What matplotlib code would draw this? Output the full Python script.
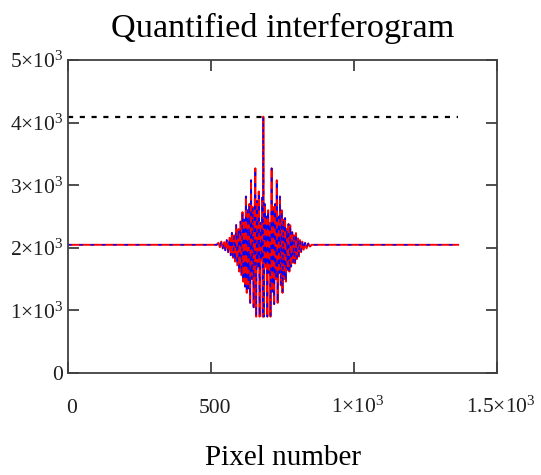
import matplotlib
matplotlib.use('Agg')
import matplotlib.pyplot as plt
import matplotlib.transforms as mtrans

# interferogram vertices (pixel, level)
pixel = [0, 520, 526, 531, 536, 541, 546, 550, 555, 560, 565, 569, 573, 577, 581,
         584, 588, 592, 596, 599, 603, 607, 610, 613, 616, 619, 622, 625, 628,
         631, 634, 637, 640, 643, 646, 649, 652, 655, 658, 661, 664, 667, 670,
         673, 676, 679, 681, 683, 685, 688, 691, 694, 697, 700, 703, 706, 708,
         712, 715, 718, 721, 724, 727, 730, 733, 736, 739, 741, 744, 747, 750,
         753, 756, 759, 762, 765, 768, 771, 774, 777, 780, 784, 787, 790, 794,
         797, 800, 804, 807, 811, 815, 819, 824, 829, 834, 840, 846, 852, 1364]
level = [2048, 2048, 2080, 2010, 2100, 1990, 2090, 1960, 2125, 1930, 2160, 1880,
         2240, 1840, 2200, 1780, 2365, 1720, 2300, 1620, 2420, 1560, 2570, 1460,
         2450, 1380, 2820, 1280, 2600, 1350, 2700, 1120, 3080, 1500, 2650, 1050,
         2500, 3270, 900, 2750, 1700, 2900, 900, 2400, 1800, 2800, 900, 4095,
         900, 2700, 1700, 2500, 900, 2600, 1600, 2400, 900, 3270, 1300, 2650,
         1100, 2700, 1500, 3080, 1120, 2500, 1600, 2820, 1400, 2600, 1280, 2450,
         1500, 2475, 1460, 2300, 1650, 2380, 1620, 2360, 1700, 2250, 1760, 2200,
         1750, 2236, 1820, 2150, 1860, 2124, 1930, 2100, 1970, 2080, 1990, 2070,
         2020, 2048, 2048]

max_level = 4095
max_x = [0, 1364]

xticks = [0, 500, 1000, 1500]
xlabels = ['0', '500', r'$1{\times}10^{3}$', r'$1.5{\times}10^{3}$']
yticks = [0, 1000, 2000, 3000, 4000, 5000]
ylabels = ['0', r'$1{\times}10^{3}$', r'$2{\times}10^{3}$', r'$3{\times}10^{3}$',
           r'$4{\times}10^{3}$', r'$5{\times}10^{3}$']

plt.rcParams['font.family'] = ['Liberation Serif', 'DejaVu Serif']
plt.rcParams['mathtext.fontset'] = 'custom'
plt.rcParams['mathtext.rm'] = 'Liberation Serif'
plt.rcParams['mathtext.it'] = 'Liberation Serif'

fig = plt.figure(figsize=(5.41, 4.75), dpi=100)
ax = fig.add_axes([0.1257, 0.2147, 0.793, 0.659])

ax.plot(max_x, [max_level, max_level], color='black', lw=1.6,
        dashes=(2.3, 3.0))
ax.plot(pixel, level, color='red', lw=1.4)
ax.plot(pixel, level, color='blue', lw=1.0, dashes=(2.7, 5.4))

ax.set_xlim(0, 1500)
ax.set_ylim(0, 5000)
ax.set_xticks(xticks)
ax.set_xticklabels(xlabels)
ax.set_yticks(yticks)
ax.set_yticklabels(ylabels)
ax.tick_params(direction='in', length=8, width=1.3, color='#404040',
               labelsize=15.5, labelcolor='#1e1e1e',
               top=True, right=True)
ax.tick_params(axis='x', pad=28.5)
ax.tick_params(axis='y', pad=3.5)
shift = mtrans.ScaledTranslation(4 / 100, 0, fig.dpi_scale_trans)
for lab in ax.get_xticklabels():
    lab.set_va('baseline')
    lab.set_transform(lab.get_transform() + shift)
for s in ax.spines.values():
    s.set_color('#404040')
    s.set_linewidth(1.3)

ax.set_title('Quantified interferogram', fontsize=24.7, pad=16.5)
ax.set_xlabel('Pixel number', fontsize=21, labelpad=20)

fig.savefig('out.png', dpi=100)
plt.close(fig)
